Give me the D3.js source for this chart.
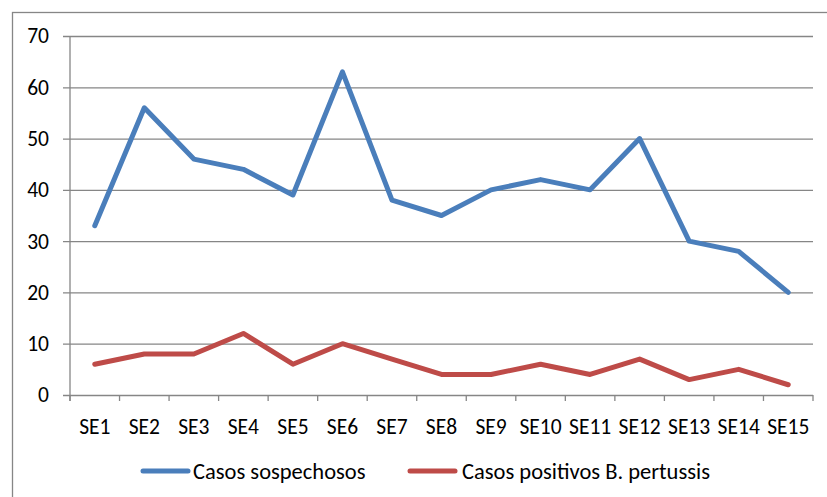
<!DOCTYPE html>
<html>
<head>
<meta charset="utf-8">
<script src="https://cdn.jsdelivr.net/npm/d3@7"></script>
<style>
  body { margin: 0; background: #fff; }
  text { font-family: Carlito, Lato, "Open Sans", sans-serif; fill: #000; }
</style>
</head>
<body>
<div id="chart"></div>
<script>
// Data
const WEEKS = ["SE1", "SE2", "SE3", "SE4", "SE5", "SE6", "SE7", "SE8",
  "SE9", "SE10", "SE11", "SE12", "SE13", "SE14", "SE15"];
const SOSPECHOSOS = [33, 56, 46, 44, 39, 63, 38, 35, 40, 42, 40, 50, 30, 28, 20];
const POSITIVOS = [6, 8, 8, 12, 6, 10, 7, 4, 4, 6, 4, 7, 3, 5, 2];
const Y_TICKS = [0, 10, 20, 30, 40, 50, 60, 70];
const SERIES_NAMES = ["Casos sospechosos", "Casos positivos B. pertussis"];

// Layout constants
const WIDTH = 827;
const HEIGHT = 497;
const LEFT = 70;
const RIGHT = 813;
const TOP = 36;
const BOTTOM = 395;
const FONT_SIZE = "21.5px";
const LEGEND_FONT_SIZE = "22.5px";
const GRID_COLOR = "#868686";
const COLORS = ["#4a7ebb", "#be4b48"];

var svg = d3
  .select("#chart")
  .append("svg")
  .attr("width", WIDTH)
  .attr("height", HEIGHT);

// Outer frame of the chart area (runs off the right and bottom edges)
svg
  .append("rect")
  .attr("x", 12.5)
  .attr("y", 12.5)
  .attr("width", WIDTH + 10)
  .attr("height", HEIGHT + 10)
  .attr("fill", "none")
  .attr("stroke", GRID_COLOR)
  .attr("stroke-width", 1.3);

var x = d3.scaleBand().domain(WEEKS).range([LEFT, RIGHT]);
var y = d3.scaleLinear().domain([0, 70]).range([BOTTOM, TOP]);

// Horizontal gridlines and y axis
var yAxis = d3
  .axisLeft(y)
  .tickValues(Y_TICKS)
  .tickSize(-(RIGHT - LEFT))
  .tickPadding(21)
  .tickSizeOuter(0);

var gy = svg
  .append("g")
  .attr("transform", `translate(${LEFT},0)`)
  .call(yAxis);
gy.select(".domain").remove();
gy.selectAll(".tick line")
  .attr("x1", -7)
  .attr("stroke", GRID_COLOR)
  .attr("stroke-width", 1.3);
gy.selectAll(".tick text").style("font-size", FONT_SIZE);

// Vertical axis line
svg
  .append("line")
  .attr("x1", LEFT)
  .attr("x2", LEFT)
  .attr("y1", TOP)
  .attr("y2", BOTTOM + 6)
  .attr("stroke", GRID_COLOR)
  .attr("stroke-width", 1.3);

// X axis tick marks at category boundaries
svg
  .append("g")
  .selectAll("line")
  .data(WEEKS.concat(["end"]))
  .enter()
  .append("line")
  .attr("x1", (d, i) => LEFT + i * x.bandwidth())
  .attr("x2", (d, i) => LEFT + i * x.bandwidth())
  .attr("y1", BOTTOM)
  .attr("y2", BOTTOM + 6)
  .attr("stroke", GRID_COLOR)
  .attr("stroke-width", 1.3);

// X labels
svg
  .append("g")
  .selectAll("text")
  .data(WEEKS)
  .enter()
  .append("text")
  .attr("x", (d) => x(d) + x.bandwidth() / 2)
  .attr("y", 434)
  .attr("text-anchor", "middle")
  .style("font-size", FONT_SIZE)
  .text((d) => d);

// Lines
var line = d3
  .line()
  .x((d, i) => x(WEEKS[i]) + x.bandwidth() / 2)
  .y((d) => y(d));

[SOSPECHOSOS, POSITIVOS].forEach(function (data, i) {
  svg
    .append("path")
    .datum(data)
    .attr("d", line)
    .attr("fill", "none")
    .attr("stroke", COLORS[i])
    .attr("stroke-width", 5)
    .attr("stroke-linejoin", "round")
    .attr("stroke-linecap", "round");
});

// Legend
var legendPos = [[143, 193], [410, 462]];
SERIES_NAMES.forEach(function (name, i) {
  var g = svg.append("g");
  g.append("line")
    .attr("x1", legendPos[i][0])
    .attr("x2", legendPos[i][0] + 45)
    .attr("y1", 471)
    .attr("y2", 471)
    .attr("stroke", COLORS[i])
    .attr("stroke-width", 5)
    .attr("stroke-linecap", "round");
  g.append("text")
    .attr("x", legendPos[i][1])
    .attr("y", 479)
    .style("font-size", LEGEND_FONT_SIZE)
    .text(name);
});
</script>
</body>
</html>
